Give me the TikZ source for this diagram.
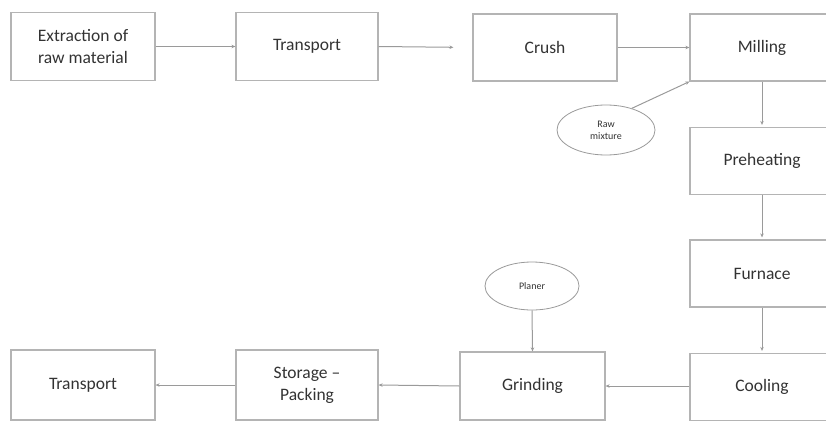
\documentclass[tikz,border=0pt]{standalone}
\usepackage{fontspec}
\setmainfont{Carlito}
\usetikzlibrary{arrows.meta,shapes.geometric}
\definecolor{linegray}{HTML}{9A9A9A}
\definecolor{boxgray}{HTML}{B4B4B4}
\definecolor{txtgray}{HTML}{333333}
\tikzset{
  stepbox/.style={draw=boxgray, line width=1.2pt, fill=white, minimum width=144pt, minimum height=68pt, inner sep=0pt, align=center, text=txtgray, font=\fontsize{17.5}{22}\selectfont},
  oval/.style={draw=linegray, line width=0.8pt, ellipse, fill=white, inner sep=0pt, align=center, text=txtgray, font=\fontsize{10}{12}\selectfont},
  flow/.style={draw=linegray, line width=1pt, -{Stealth[length=4pt,width=3.5pt]}}
}
\begin{document}
\begin{tikzpicture}[x=1pt,y=-1pt]
\useasboundingbox (0,0) rectangle (826,420);
\clip (0,0) rectangle (826,420);
\node[stepbox] (extr) at (83,46.5) {Extraction of\\raw material};
\node[stepbox, minimum width=142pt] (trans1) at (307,46.5) {Transport};
\node[stepbox, minimum height=67pt] (crush) at (545,47.5) {Crush};
\node[stepbox, minimum height=67pt] (mill) at (762,47.5) {Milling};
\node[stepbox, minimum height=67pt] (preh) at (762,161) {Preheating};
\node[stepbox, minimum height=67pt] (furn) at (762,273.5) {Furnace};
\node[stepbox, minimum height=67pt] (cool) at (762,387) {Cooling};
\node[stepbox, minimum width=145pt] (grind) at (532.5,386) {Grinding};
\node[stepbox, minimum width=142pt, minimum height=70pt] (stor) at (307,385) {Storage –\\Packing};
\node[stepbox, minimum height=70pt] (trans2) at (83,385) {Transport};
\node[oval, minimum width=98pt, minimum height=50pt] (raw) at (606,130) {Raw\\mixture};
\node[oval, minimum width=94pt, minimum height=48pt] (plan) at (532,286) {Planer};
\draw[flow] (extr.east) -- (trans1.west);
\draw[flow, shorten >=19pt] (trans1.east) -- (crush.west);
\draw[flow] (crush.east) -- (mill.west);
\draw[flow] (raw.40) -- (mill.south west);
\draw[flow, shorten >=2pt] (mill.south) -- (preh.north);
\draw[flow, shorten >=2pt] (preh.south) -- (furn.north);
\draw[flow, shorten >=2pt] (furn.south) -- (cool.north);
\draw[flow] (cool.west |- grind.east) -- (grind.east);
\draw[flow] (grind.west) -- (stor.east);
\draw[flow] (stor.west) -- (trans2.east);
\draw[flow] (plan.south) -- (grind.north);
\end{tikzpicture}
\end{document}
